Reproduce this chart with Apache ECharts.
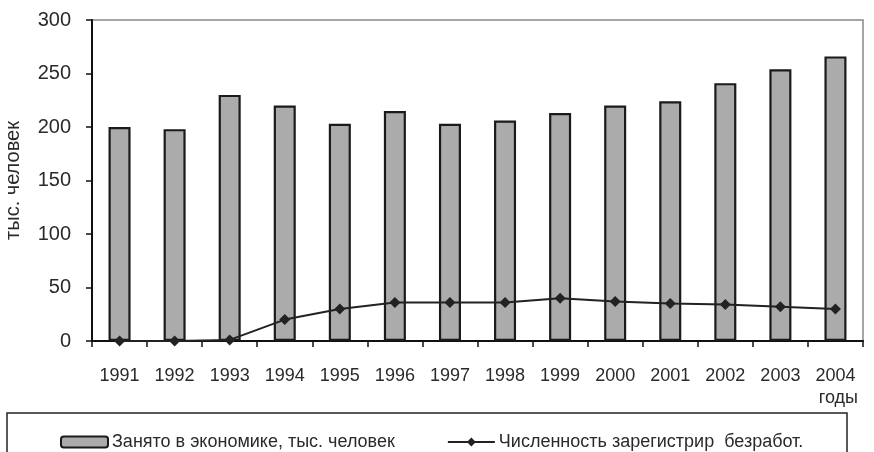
<!DOCTYPE html>
<html>
<head>
<meta charset="utf-8">
<script src="https://cdn.jsdelivr.net/npm/echarts@6/dist/echarts.min.js"></script>
<style>
html,body{margin:0;padding:0;background:#fff;}
#chart{width:874px;height:452px;}
</style>
</head>
<body>
<div id="chart"></div>
<script>
const years = ['1991','1992','1993','1994','1995','1996','1997','1998','1999','2000','2001','2002','2003','2004'];
const employed = [200,198,230,220,203,215,203,206,213,220,224,241,254,266];
const unemployed = [0,0,1,20,30,36,36,36,40,37,35,34,32,30];
const yTicks = {min:0, max:300, interval:50};
const seriesNames = ['Занято в экономике, тыс. человек','Численность зарегистрир  безработ.'];
const yName = 'тыс. человек';
const xName = 'годы';

const FONT = '"Liberation Sans", Arial, sans-serif';
const TXT = '#2a2a2a';
const chart = echarts.init(document.getElementById('chart'), null, {renderer:'canvas'});
chart.setOption({
  animation:false,
  textStyle:{fontFamily:FONT},
  grid:{left:92,right:11,top:20,bottom:111,containLabel:false,outerBoundsMode:'none',
        show:true,borderColor:'#888',borderWidth:1.5,backgroundColor:'transparent'},
  legend:{
    left:55, top:428, itemGap:52, itemWidth:47, itemHeight:11,
    textStyle:{fontFamily:FONT,fontSize:18,color:TXT,padding:[0,0,0,-1]},
    data:[{name:seriesNames[0]},{name:seriesNames[1],itemStyle:{color:'#222'}}]
  },
  xAxis:{
    type:'category', data:years, boundaryGap:true,
    axisLine:{lineStyle:{color:'#111',width:2}},
    axisTick:{show:true,interval:0,alignWithLabel:false,length:6,lineStyle:{color:'#111',width:1.5}},
    axisLabel:{interval:0,margin:26,fontSize:18,color:TXT,fontFamily:FONT},
    splitLine:{show:false}
  },
  yAxis:{
    type:'value', min:yTicks.min, max:yTicks.max, interval:yTicks.interval,
    name:yName, nameLocation:'middle', nameGap:69, nameRotate:90,
    nameTextStyle:{fontSize:20,color:TXT,fontFamily:FONT},
    axisLine:{show:true,lineStyle:{color:'#111',width:2}},
    axisTick:{show:true,length:6,lineStyle:{color:'#111',width:1.5}},
    axisLabel:{fontSize:20,color:TXT,margin:21,fontFamily:FONT},
    splitLine:{show:false}
  },
  graphic:[
    {type:'rect',shape:{x:7,y:413,width:840,height:60},style:{fill:'none',stroke:'#222',lineWidth:1.5},silent:true},
    {type:'text',right:16,top:389,style:{text:xName,fontSize:18,fill:TXT,fontFamily:FONT}}
  ],
  series:[
    {name:seriesNames[0],type:'bar',data:employed,barWidth:'40%',
     itemStyle:{color:'#ababab',borderColor:'#1a1a1a',borderWidth:2.2}},
    {name:seriesNames[1],type:'line',data:unemployed,symbol:'diamond',symbolSize:11,
     lineStyle:{color:'#222',width:2},itemStyle:{color:'#222'}}
  ]
});
</script>
</body>
</html>
